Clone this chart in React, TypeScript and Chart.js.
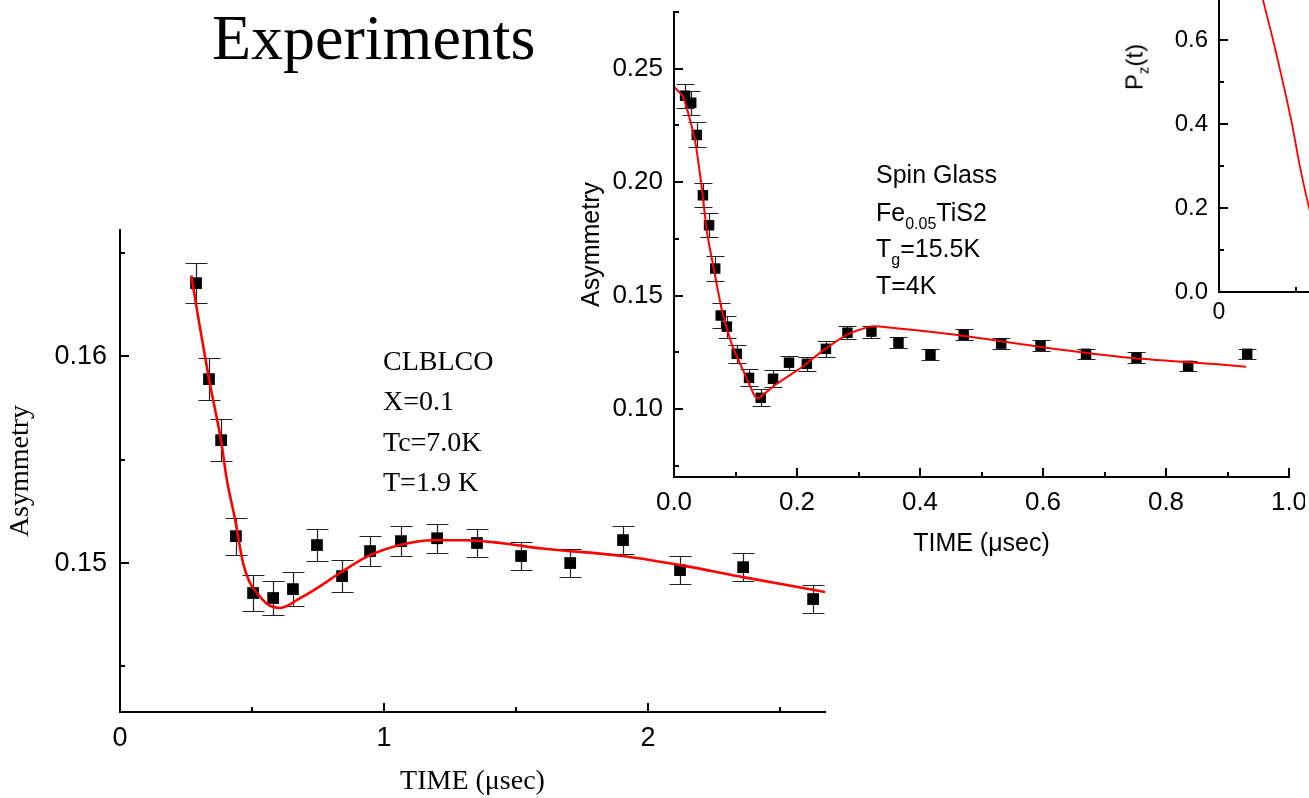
import React, { useEffect, useRef } from 'react';
import { Chart, registerables } from 'chart.js';

Chart.register(...registerables);

// ---------------- Data: CLBLCO (left, large panel) ----------------
const CLBLCO_TIME = [0.288, 0.337, 0.383, 0.439, 0.504, 0.580, 0.655, 0.746, 0.841, 0.947, 1.064, 1.201, 1.352, 1.519, 1.705, 1.905, 2.121, 2.360, 2.625];
const CLBLCO_ASYM = [0.16353, 0.15889, 0.15594, 0.1513, 0.14855, 0.14831, 0.14874, 0.15087, 0.14937, 0.15058, 0.15106, 0.1512, 0.15097, 0.15034, 0.1500, 0.15111, 0.14966, 0.1498, 0.14826];
const CLBLCO_ERR = [0.00097, 0.001, 0.001, 0.00089, 0.00089, 0.0008, 0.00083, 0.00077, 0.00078, 0.00074, 0.00072, 0.00071, 0.00068, 0.00068, 0.00067, 0.00069, 0.00069, 0.00068, 0.00069];
const CLBLCO_FIT_TIME = [0.27, 0.30, 0.337, 0.383, 0.405, 0.436, 0.466, 0.49, 0.519, 0.56, 0.606, 0.682, 0.76, 0.833, 0.934, 1.06, 1.186, 1.313, 1.44, 1.6, 1.905, 2.121, 2.36, 2.67];
const CLBLCO_FIT_ASYM = [0.1639, 0.1616, 0.1589, 0.1559, 0.1540, 0.1521, 0.1500, 0.1491, 0.14855, 0.1480, 0.14783, 0.1483, 0.1489, 0.14952, 0.1503, 0.15087, 0.1511, 0.1511, 0.15097, 0.1507, 0.15034, 0.1499, 0.14932, 0.1486];
const LEFT_X_MAJOR = [0, 1, 2];
const LEFT_X_MINOR = [0.5, 1.5, 2.5];
const LEFT_Y_MAJOR = [0.15, 0.16];
const LEFT_Y_MINOR = [0.145, 0.155, 0.165];

// ---------------- Data: Spin glass Fe0.05TiS2 (middle panel) ----------------
const SG_TIME = [0.018, 0.028, 0.037, 0.047, 0.057, 0.067, 0.076, 0.086, 0.102, 0.122, 0.141, 0.161, 0.187, 0.216, 0.247, 0.282, 0.321, 0.365, 0.417, 0.471, 0.532, 0.596, 0.670, 0.752, 0.836, 0.932];
const SG_ASYM = [0.2381, 0.2350, 0.2208, 0.1942, 0.1810, 0.1619, 0.1412, 0.1363, 0.1243, 0.1137, 0.1049, 0.1133, 0.1204, 0.1199, 0.1265, 0.1336, 0.1341, 0.1292, 0.1239, 0.1327, 0.1288, 0.1279, 0.1243, 0.1226, 0.1190, 0.1243];
const SG_ERR = [0.0053, 0.0053, 0.0055, 0.0053, 0.0053, 0.0055, 0.0055, 0.0048, 0.0039, 0.0038, 0.0038, 0.0038, 0.0031, 0.0032, 0.0035, 0.0028, 0.0026, 0.0025, 0.0024, 0.0024, 0.0024, 0.0023, 0.0023, 0.0023, 0.0023, 0.0022];
const SG_FIT_TIME = [0.0, 0.015, 0.034, 0.045, 0.054, 0.066, 0.078, 0.096, 0.115, 0.131, 0.137, 0.167, 0.209, 0.242, 0.281, 0.318, 0.334, 0.469, 0.605, 0.74, 0.875, 0.93];
const SG_FIT_ASYM = [0.2420, 0.2376, 0.2186, 0.1978, 0.1774, 0.1600, 0.1434, 0.1270, 0.1155, 0.1058, 0.1046, 0.1111, 0.1186, 0.1257, 0.1327, 0.1363, 0.1363, 0.1323, 0.1270, 0.1226, 0.1199, 0.1186];
const MID_X_MAJOR = [0, 0.2, 0.4, 0.6, 0.8, 1.0];
const MID_X_MINOR = [0.1, 0.3, 0.5, 0.7, 0.9];
const MID_Y_MAJOR = [0.10, 0.15, 0.20, 0.25];
const MID_Y_MINOR = [0.075, 0.125, 0.175, 0.225, 0.275];

// ---------------- Data: P_z(t) (right panel, cut off) ----------------
const PZ_TIME = [0.27, 0.286, 0.351, 0.474, 0.526, 0.584, 0.62];
const PZ_VALUE = [0.72, 0.695, 0.60, 0.40, 0.298, 0.202, 0.15];
const RIGHT_X_MAJOR = [0, 1, 2];
const RIGHT_X_MINOR = [0.5, 1.5];
const RIGHT_Y_MAJOR = [0.0, 0.2, 0.4, 0.6, 0.8, 1.0];
const RIGHT_Y_MINOR = [0.1, 0.3, 0.5, 0.7, 0.9];

const SANS = 'Liberation Sans, Arial, sans-serif';
const SERIF = 'Liberation Serif, Times New Roman, serif';

const zip = (xs: number[], ys: number[]) => xs.map((x, i) => ({ x, y: ys[i] }));

// Origin-style axes: axis lines with inward major/minor tick marks
const originAxes = {
  id: 'originAxes',
  afterDraw(chart: any, _args: any, opts: any) {
    const { ctx, chartArea: ca } = chart;
    const xs = chart.scales.x;
    const ys = chart.scales.y;
    ctx.save();
    ctx.strokeStyle = '#000';
    ctx.lineWidth = opts.axisWidth || 2;
    ctx.lineCap = 'square';
    ctx.beginPath();
    ctx.moveTo(ca.left, ca.top);
    ctx.lineTo(ca.left, ca.bottom);
    ctx.lineTo(ca.right, ca.bottom);
    ctx.stroke();
    ctx.lineCap = 'butt';
    ctx.lineWidth = opts.tickWidth || 2;
    const xt = (vals: number[], len: number) => {
      vals.forEach((v) => {
        if (v < xs.min - 1e-9 || v > xs.max + 1e-9) return;
        const p = Math.round(xs.getPixelForValue(v));
        ctx.beginPath();
        ctx.moveTo(p, ca.bottom);
        ctx.lineTo(p, ca.bottom - len);
        ctx.stroke();
      });
    };
    const yt = (vals: number[], len: number) => {
      vals.forEach((v) => {
        if (v < ys.min - 1e-9 || v > ys.max + 1e-9) return;
        const p = Math.round(ys.getPixelForValue(v));
        ctx.beginPath();
        ctx.moveTo(ca.left, p);
        ctx.lineTo(ca.left + len, p);
        ctx.stroke();
      });
    };
    xt(opts.xMajor, opts.majorLen);
    xt(opts.xMinor, opts.minorLen);
    yt(opts.yMajor, opts.majorLen);
    yt(opts.yMinor, opts.minorLen);
    ctx.restore();
  },
};

// Vertical error bars with caps
const errorBars = {
  id: 'errorBars',
  beforeDatasetsDraw(chart: any, _args: any, opts: any) {
    const { ctx } = chart;
    const xs = chart.scales.x;
    const ys = chart.scales.y;
    ctx.save();
    ctx.strokeStyle = opts.color || '#222';
    ctx.lineWidth = opts.width || 1;
    chart.data.datasets.forEach((ds: any) => {
      if (!ds.errors) return;
      ds.data.forEach((p: any, i: number) => {
        const e = ds.errors[i];
        const x = Math.round(xs.getPixelForValue(p.x)) + 0.5;
        const y1 = Math.round(ys.getPixelForValue(p.y - e)) + 0.5;
        const y2 = Math.round(ys.getPixelForValue(p.y + e)) + 0.5;
        ctx.beginPath();
        ctx.moveTo(x, y1);
        ctx.lineTo(x, y2);
        ctx.moveTo(x - opts.cap, y1);
        ctx.lineTo(x + opts.cap, y1);
        ctx.moveTo(x - opts.cap, y2);
        ctx.lineTo(x + opts.cap, y2);
        ctx.stroke();
      });
    });
    ctx.restore();
  },
};

type AxisSpec = {
  min: number;
  max: number;
  major: number[];
  decimals: number;
  size: number; // forced box size (width for y, height for x)
  tickFont: number;
  tickPad: number;
  title?: string;
  titleFont?: { family: string; size: number };
  titlePad?: any;
};

function makeScale(a: AxisSpec, isX: boolean) {
  return {
    type: 'linear',
    min: a.min,
    max: a.max,
    border: { display: false },
    grid: { display: false, drawTicks: false, tickLength: 0 },
    ticks: {
      color: '#000',
      font: { family: SANS, size: a.tickFont },
      padding: a.tickPad,
      maxRotation: 0,
      autoSkip: false,
      callback: (v: any) => Number(v).toFixed(a.decimals),
    },
    title: a.title
      ? {
          display: true,
          text: a.title,
          color: '#000',
          font: { ...a.titleFont, lineHeight: 1.2 },
          padding: a.titlePad,
        }
      : { display: false },
    afterBuildTicks: (s: any) => {
      s.ticks = a.major.map((v) => ({ value: v }));
    },
    afterFit: (s: any) => {
      if (isX) s.height = a.size;
      else s.width = a.size;
      s.paddingTop = 0;
      s.paddingBottom = 0;
      s.paddingLeft = 0;
      s.paddingRight = 0;
    },
  };
}

function ChartCanvas(props: { left: number; top: number; width: number; height: number; config: any }) {
  const ref = useRef<HTMLCanvasElement | null>(null);
  useEffect(() => {
    const c = new Chart(ref.current as HTMLCanvasElement, props.config);
    return () => c.destroy();
  }, []);
  return (
    <canvas
      ref={ref}
      width={props.width}
      height={props.height}
      style={{ position: 'absolute', left: props.left, top: props.top, width: props.width, height: props.height }}
    />
  );
}

const baseOptions = (padding: any, x: any, y: any, axes: any, eb: any) => ({
  responsive: false,
  animation: false,
  devicePixelRatio: 1,
  layout: { padding },
  plugins: {
    legend: { display: false },
    tooltip: { enabled: false },
    originAxes: axes,
    errorBars: eb,
  },
  scales: { x, y },
});

const leftConfig = {
  type: 'scatter',
  data: {
    datasets: [
      {
        label: 'fit',
        data: zip(CLBLCO_FIT_TIME, CLBLCO_FIT_ASYM),
        showLine: true,
        borderColor: '#ff0000',
        borderWidth: 2.6,
        pointRadius: 0,
        cubicInterpolationMode: 'monotone',
      },
      {
        label: 'CLBLCO',
        data: zip(CLBLCO_TIME, CLBLCO_ASYM),
        errors: CLBLCO_ERR,
        showLine: false,
        pointStyle: 'rect',
        pointRadius: 8.3,
        backgroundColor: '#000',
        borderColor: '#000',
        borderWidth: 0,
      },
    ],
  },
  options: baseOptions(
    { left: 0, top: 30, right: 15, bottom: 0 },
    makeScale({ min: 0, max: 2.67, major: LEFT_X_MAJOR, decimals: 0, size: 86, tickFont: 27, tickPad: 10, title: 'TIME (\u03bcsec)', titleFont: { family: SERIF, size: 28 }, titlePad: { top: 0, bottom: 0 } }, true),
    makeScale({ min: 0.1428, max: 0.1661, major: LEFT_Y_MAJOR, decimals: 2, size: 120, tickFont: 27, tickPad: 13, title: 'Asymmetry', titleFont: { family: SERIF, size: 28 }, titlePad: { top: 4, bottom: 0 } }, false),
    { xMajor: LEFT_X_MAJOR, xMinor: LEFT_X_MINOR, yMajor: LEFT_Y_MAJOR, yMinor: LEFT_Y_MINOR, majorLen: 9, minorLen: 5, axisWidth: 2, tickWidth: 2 },
    { cap: 11, color: '#222', width: 1.2 }
  ),
  plugins: [originAxes, errorBars],
};

const midConfig = {
  type: 'scatter',
  data: {
    datasets: [
      {
        label: 'fit',
        data: zip(SG_FIT_TIME, SG_FIT_ASYM),
        showLine: true,
        borderColor: '#ff0000',
        borderWidth: 2,
        pointRadius: 0,
        tension: 0.2,
      },
      {
        label: 'Fe0.05TiS2',
        data: zip(SG_TIME, SG_ASYM),
        errors: SG_ERR,
        showLine: false,
        pointStyle: 'rect',
        pointRadius: 7.4,
        backgroundColor: '#000',
        borderColor: '#000',
        borderWidth: 0,
      },
    ],
  },
  options: baseOptions(
    { left: 0, top: 12, right: 16, bottom: 0 },
    makeScale({ min: 0, max: 1.0, major: MID_X_MAJOR, decimals: 1, size: 93, tickFont: 26, tickPad: 10, title: 'TIME (\u03bcsec)', titleFont: { family: SANS, size: 25 }, titlePad: { top: 0, bottom: 11 } }, true),
    makeScale({ min: 0.07, max: 0.275, major: MID_Y_MAJOR, decimals: 2, size: 114, tickFont: 26, tickPad: 11, title: 'Asymmetry', titleFont: { family: SANS, size: 25 }, titlePad: { top: 17, bottom: 0 } }, false),
    { xMajor: MID_X_MAJOR, xMinor: MID_X_MINOR, yMajor: MID_Y_MAJOR, yMinor: MID_Y_MINOR, majorLen: 9, minorLen: 5, axisWidth: 2, tickWidth: 2 },
    { cap: 9, color: '#222', width: 1.2 }
  ),
  plugins: [originAxes, errorBars],
};

const rightConfig = {
  type: 'scatter',
  data: {
    datasets: [
      {
        label: 'Pz(t)',
        data: zip(PZ_TIME, PZ_VALUE),
        showLine: true,
        borderColor: '#ff0000',
        borderWidth: 1.8,
        pointRadius: 0,
        cubicInterpolationMode: 'monotone',
      },
    ],
  },
  options: baseOptions(
    { left: 0, top: 12, right: 23, bottom: 0 },
    makeScale({ min: 0, max: 2, major: RIGHT_X_MAJOR, decimals: 0, size: 40, tickFont: 23, tickPad: 7 }, true),
    makeScale({ min: 0, max: 1.0, major: RIGHT_Y_MAJOR, decimals: 1, size: 99, tickFont: 24, tickPad: 11 }, false),
    { xMajor: RIGHT_X_MAJOR, xMinor: RIGHT_X_MINOR, yMajor: RIGHT_Y_MAJOR, yMinor: RIGHT_Y_MINOR, majorLen: 9, minorLen: 5, axisWidth: 2, tickWidth: 2 },
    { cap: 0 }
  ),
  plugins: [originAxes],
};

// text placed by baseline
function Txt(props: { x: number; baseline: number; size: number; serif?: boolean; children: any }) {
  const asc = props.serif ? 0.891 : 0.905;
  const desc = props.serif ? 0.216 : 0.212;
  const fs = props.size;
  const top = props.baseline - ((fs - (asc + desc) * fs) / 2 + asc * fs);
  return (
    <div
      style={{
        position: 'absolute',
        left: props.x,
        top,
        fontSize: fs,
        lineHeight: `${fs}px`,
        fontFamily: props.serif ? SERIF : SANS,
        whiteSpace: 'nowrap',
        color: '#000',
      }}
    >
      {props.children}
    </div>
  );
}

const sub = (t: string, size: number, drop: number) => (
  <span style={{ fontSize: size, position: 'relative', top: drop }}>{t}</span>
);

export default function App() {
  return (
    <div
      style={{
        position: 'fixed',
        left: 0,
        top: 0,
        width: 1309,
        height: 798,
        overflow: 'hidden',
        background: '#fff',
      }}
    >
      <ChartCanvas left={0} top={200} width={840} height={598} config={leftConfig} />
      <ChartCanvas left={560} top={0} width={745} height={570} config={midConfig} />
      <ChartCanvas left={1120} top={-140} width={430} height={472} config={rightConfig} />

      <Txt x={212} baseline={60} size={64} serif>
        Experiments
      </Txt>

      <Txt x={383} baseline={370} size={28} serif>CLBLCO</Txt>
      <Txt x={383} baseline={410} size={28} serif>X=0.1</Txt>
      <Txt x={383} baseline={451} size={28} serif>Tc=7.0K</Txt>
      <Txt x={383} baseline={491} size={28} serif>T=1.9 K</Txt>

      <Txt x={876} baseline={183} size={25}>Spin Glass</Txt>
      <Txt x={876} baseline={221} size={25}>
        Fe{sub('0.05', 16, 8)}TiS2
      </Txt>
      <Txt x={876} baseline={257} size={25}>
        T{sub('g', 16, 8)}=15.5K
      </Txt>
      <Txt x={876} baseline={294} size={25}>T=4K</Txt>

      <div
        style={{
          position: 'absolute',
          left: 1136,
          top: 67,
          transform: 'translate(-50%, -50%) rotate(-90deg)',
          fontFamily: SANS,
          fontSize: 24,
          lineHeight: '24px',
          whiteSpace: 'nowrap',
          color: '#000',
        }}
      >
        P{sub('z', 15, 6)}(t)
      </div>
    </div>
  );
}
